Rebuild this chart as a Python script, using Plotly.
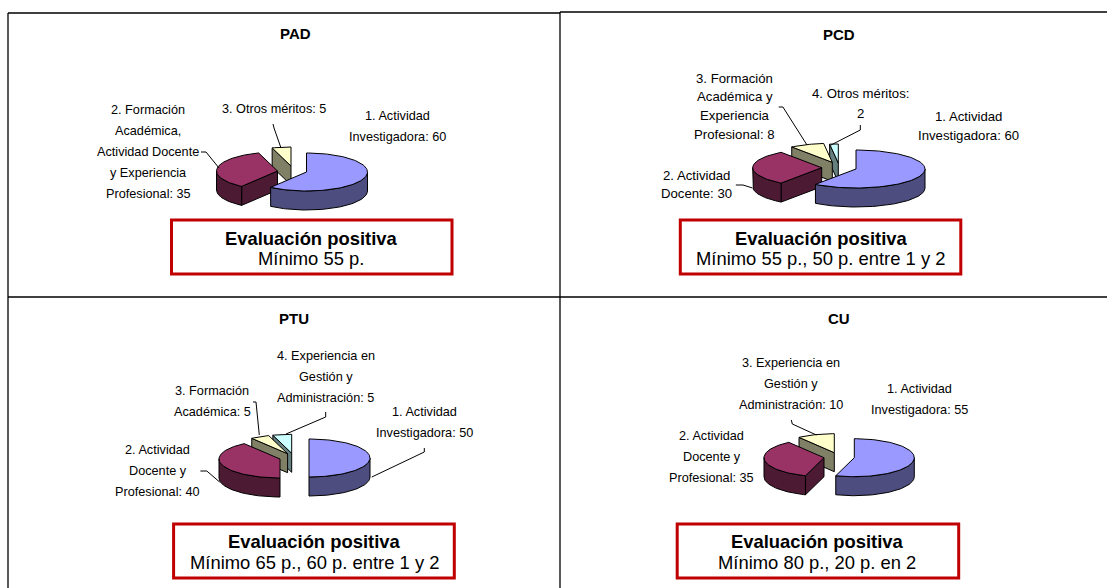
import math
import plotly.graph_objects as go

# ---- data -------------------------------------------------------------
PANELS = ["PAD", "PCD", "PTU", "CU"]
PAD_VALUES = [60, 35, 5]
PCD_VALUES = [60, 30, 8, 2]
PTU_VALUES = [50, 40, 5, 5]
CU_VALUES = [55, 35, 10]

PAD_LABELS = [["1. Actividad", "Investigadora: 60"],
              ["2. Formación", "Académica,", "Actividad Docente", "y Experiencia", "Profesional: 35"],
              ["3. Otros méritos: 5"]]
PCD_LABELS = [["1. Actividad", "Investigadora: 60"],
              ["2. Actividad", "Docente: 30"],
              ["3. Formación", "Académica y", "Experiencia", "Profesional: 8"],
              ["4. Otros méritos:", "2"]]
PTU_LABELS = [["1. Actividad", "Investigadora: 50"],
              ["2. Actividad", "Docente y", "Profesional: 40"],
              ["3. Formación", "Académica: 5"],
              ["4. Experiencia en", "Gestión y", "Administración: 5"]]
CU_LABELS = [["1. Actividad", "Investigadora: 55"],
             ["2. Actividad", "Docente y", "Profesional: 35"],
             ["3. Experiencia en", "Gestión y", "Administración: 10"]]

BOX_TITLE = "Evaluación positiva"
PAD_NOTE = "Mínimo 55 p."
PCD_NOTE = "Mínimo 55 p., 50 p. entre 1 y 2"
PTU_NOTE = "Mínimo 65 p., 60 p. entre 1 y 2"
CU_NOTE = "Mínimo 80 p., 20 p. en 2"

# ---- style and layout -------------------------------------------------
W, H = 1107, 588
TOP = ["#9999FF", "#993366", "#FFFFCC", "#CCFFFF"]
SIDE = ["#4D4D80", "#4D1A33", "#808066", "#668080"]
FONT = "Liberation Sans"
RED = "#C00000"
RY = 19
DEPTH = 19

LAYOUT = {
    "PAD": dict(values=PAD_VALUES, labels=PAD_LABELS, note=PAD_NOTE, rx=61,
                apex=[(306.5, 172), (277.5, 171), (291, 166)],
                title=(295, 33),
                label_pos=[(397.5, 116, 21), (148, 110, 21), (274, 109, 21)],
                font=12.7,
                box=(171.5, 220, 452, 274), box_x=311, box_y=(238, 258),
                leaders=[[(201, 152), (206, 152), (219, 168)],
                         [(273, 124), (274, 128), (281, 148)]]),
    "PCD": dict(values=PCD_VALUES, labels=PCD_LABELS, note=PCD_NOTE, rx=69,
                apex=[(856, 169), (821.7, 167.7), (832.3, 162.3), (838.3, 163)],
                title=(839.4, 34),
                label_pos=[(968, 116, 19), (696, 175, 18), (734.8, 78, 18.7), (860.3, 93, 20)],
                font=13.2,
                box=(680.3, 220, 960.8, 274), box_x=820.6, box_y=(238, 258),
                leaders=[[(778.7, 107), (782.9, 107), (807, 145)],
                         [(860.3, 125), (860.3, 130), (831, 145)],
                         [(735.8, 185), (743, 185), (752.5, 188)]]),
    "PTU": dict(values=PTU_VALUES, labels=PTU_LABELS, note=PTU_NOTE, rx=61,
                apex=[(309, 458), (280, 459), (287.6, 453.7), (291.7, 453.3)],
                title=(293.6, 318),
                label_pos=[(424, 412, 21), (157.5, 450, 21), (212, 391, 21), (325.7, 356, 21)],
                font=12.7,
                box=(173.6, 524, 454.3, 578), box_x=314, box_y=(541, 562),
                leaders=[[(253, 402), (256, 402), (259.3, 435)],
                         [(325.7, 412), (325.7, 417), (286, 434)],
                         [(424.3, 448), (424.3, 452), (371.8, 477)],
                         [(200.4, 471), (206.8, 471), (219.6, 482)]]),
    "CU": dict(values=CU_VALUES, labels=CU_LABELS, note=CU_NOTE, rx=60,
               apex=[(854.3, 457.7), (824, 457.7), (834.3, 452.7)],
               title=(839.4, 318),
               label_pos=[(919, 389, 21), (711.7, 436, 21), (791.3, 363, 21)],
               font=12.7,
               box=(677.2, 524, 958.7, 578), box_x=817.4, box_y=(541, 562),
               leaders=[[(791.3, 420), (792.3, 424), (816.4, 435)]]),
}

FRAME = [((8, 13), (560, 13)), ((560, 12), (1107, 12)), ((8, 13), (8, 588)),
         ((560, 12), (560, 588)), ((8, 297), (1107, 297))]

fig = go.Figure()


def poly(xy, fill):
    xs = [p[0] for p in xy] + [xy[0][0]]
    ys = [p[1] for p in xy] + [xy[0][1]]
    fig.add_trace(go.Scatter(x=xs, y=ys, mode="lines", fill="toself", fillcolor=fill,
                             line=dict(color="black", width=1), hoverinfo="skip",
                             showlegend=False))


def point(apex, a, rx):
    r = math.radians(a)
    return (apex[0] + rx * math.sin(r), apex[1] - RY * math.cos(r))


def drop(p):
    return (p[0], p[1] + DEPTH)


def draw_slice(apex, a1, a2, rx, top, side):
    # rim of the wedge that faces the viewer
    lo, hi = max(a1, 90), min(a2, 270)
    p1, p2 = point(apex, a1, rx), point(apex, a2, rx)
    # cut faces
    for p, inner in ((p1, point(apex, a1 + 0.5, rx)), (p2, point(apex, a2 - 0.5, rx))):
        ex, ey = p[0] - apex[0], p[1] - apex[1]
        c_in = ex * (inner[1] - apex[1]) - ey * (inner[0] - apex[0])
        c_down = ex * DEPTH
        if c_in * c_down < 0:
            poly([apex, p, drop(p), drop(apex)], side)
    if hi > lo:
        n = max(2, int((hi - lo) / 2))
        arc = [point(apex, lo + (hi - lo) * i / n, rx) for i in range(n + 1)]
        poly(arc + [drop(q) for q in reversed(arc)], side)
    # top face
    n = max(2, int((a2 - a1) / 2))
    arc = [point(apex, a1 + (a2 - a1) * i / n, rx) for i in range(n + 1)]
    poly([apex] + arc, top)


annotations, shapes = [], []


def text(x, y, s, size, bold=False, family=FONT):
    annotations.append(dict(x=x, y=y, xref="x", yref="y", text=f"<b>{s}</b>" if bold else s,
                            showarrow=False, xanchor="center", yanchor="middle",
                            font=dict(family=family, size=size, color="black")))


for (a, b) in FRAME:
    shapes.append(dict(type="line", x0=a[0], y0=a[1], x1=b[0], y1=b[1], xref="x", yref="y",
                       line=dict(color="black", width=1.3)))

for name in PANELS:
    cfg = LAYOUT[name]
    total = sum(cfg["values"])
    angles, acc = [], 0
    for v in cfg["values"]:
        angles.append((acc * 360 / total, (acc + v) * 360 / total))
        acc += v
    # back slices first, the first slice in front of all
    for i in reversed(range(len(cfg["values"]))):
        draw_slice(cfg["apex"][i], angles[i][0], angles[i][1], cfg["rx"], TOP[i], SIDE[i])
    for lines, (x, y, step) in zip(cfg["labels"], cfg["label_pos"]):
        for k, line in enumerate(lines):
            text(x, y + k * step, line, cfg["font"])
    text(cfg["title"][0], cfg["title"][1], name, 15, bold=True)
    for pts in cfg["leaders"]:
        fig.add_trace(go.Scatter(x=[p[0] for p in pts], y=[p[1] for p in pts], mode="lines",
                                 line=dict(color="black", width=1), hoverinfo="skip",
                                 showlegend=False))
    x0, y0, x1, y1 = cfg["box"]
    shapes.append(dict(type="rect", x0=x0, y0=y0, x1=x1, y1=y1, xref="x", yref="y",
                       line=dict(color=RED, width=3), fillcolor="white"))
    text(cfg["box_x"], cfg["box_y"][0], BOX_TITLE, 18.4, bold=True)
    text(cfg["box_x"], cfg["box_y"][1], cfg["note"], 18.4)

fig.update_layout(
    width=W, height=H, margin=dict(l=0, r=0, t=0, b=0), autosize=False,
    paper_bgcolor="white", plot_bgcolor="white", showlegend=False,
    xaxis=dict(range=[0, W], visible=False, fixedrange=True),
    yaxis=dict(range=[H, 0], visible=False, fixedrange=True),
    annotations=annotations, shapes=shapes,
)
fig.write_html("out.html", config={"displayModeBar": False},
               post_script="document.body.style.margin='0';document.documentElement.style.overflow='hidden';")
